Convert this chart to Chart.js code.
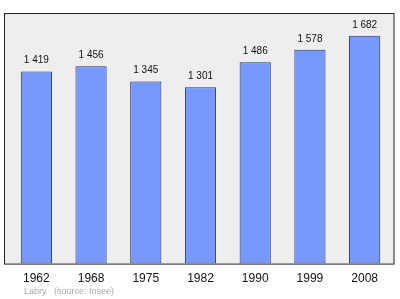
<!DOCTYPE html>
<html>
<head>
<meta charset="utf-8">
<script src="https://cdn.jsdelivr.net/npm/chart.js@4/dist/chart.umd.min.js"></script>
<style>
  html, body { margin: 0; padding: 0; background: #fff; }
  #wrap { width: 400px; height: 299px; }
</style>
</head>
<body>
<div id="wrap"><canvas id="myChart" width="400" height="299"></canvas></div>
<script>
const years = ['1962', '1968', '1975', '1982', '1990', '1999', '2008'];
const population = [1419, 1456, 1345, 1301, 1486, 1578, 1682];
const yMax = 1850;
const footerPlace = 'Labry';
const footerSource = '(source: Insee)';

function fmt(v) {
    return String(v).replace(/\B(?=(\d{3})+(?!\d))/g, ' ');
}

// grey box behind the bars, a bit wider than the chart area
const plotBox = {
    id: 'plotBox',
    beforeDatasetsDraw(chart) {
        const a = chart.chartArea;
        const c = chart.ctx;
        c.save();
        c.fillStyle = '#eeeeee';
        c.fillRect(4.5, a.top + 0.5, 389.5, a.bottom - a.top);
        c.strokeStyle = '#222222';
        c.lineWidth = 1;
        c.strokeRect(4.5, a.top + 0.5, 389.5, a.bottom - a.top);
        c.restore();
    }
};

const valueLabels = {
    id: 'valueLabels',
    afterDatasetsDraw(chart) {
        const c = chart.ctx;
        const meta = chart.getDatasetMeta(0);
        c.save();
        c.font = '10px "Liberation Sans", Arial, sans-serif';
        c.fillStyle = '#111';
        c.textAlign = 'center';
        c.textBaseline = 'middle';
        meta.data.forEach((bar, i) => {
            c.fillText(fmt(population[i]), bar.x, bar.y - 11);
        });
        // footer
        c.font = '9px "Liberation Sans", Arial, sans-serif';
        c.fillStyle = '#aaaaaa';
        c.textAlign = 'left';
        c.fillText(footerPlace, 24, 292);
        c.fillText(footerSource, 54, 292);
        c.restore();
    }
};

let ctx = document.getElementById('myChart').getContext('2d');
let chart = new Chart(ctx, {
    type: 'bar',
    data: {
        labels: years,
        datasets: [{
            data: population,
            backgroundColor: '#7799ff',
            borderColor: '#223366',
            borderWidth: 1,
            borderSkipped: false,
            barPercentage: 0.57,
            categoryPercentage: 1
        }]
    },
    options: {
        responsive: false,
        animation: false,
        layout: { padding: { left: 9, right: 8, top: 13, bottom: 5 } },
        plugins: { legend: { display: false }, tooltip: { enabled: false } },
        scales: {
            x: {
                grid: { display: false, drawTicks: false },
                border: { display: false },
                ticks: {
                    padding: 8,
                    color: '#111',
                    font: { family: '"Liberation Sans", Arial, sans-serif', size: 12 }
                }
            },
            y: {
                display: false,
                min: 0,
                max: yMax
            }
        }
    },
    plugins: [plotBox, valueLabels]
});
</script>
</body>
</html>
